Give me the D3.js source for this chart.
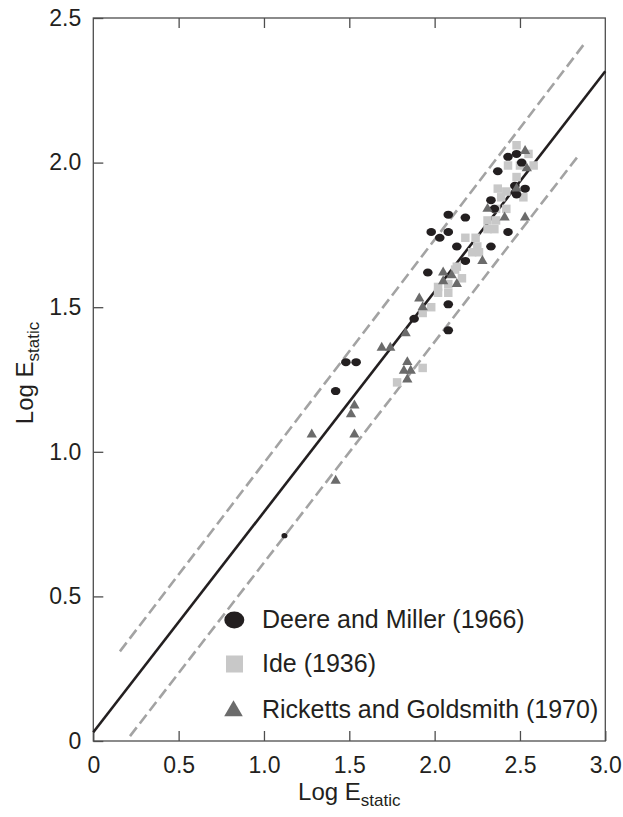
<!DOCTYPE html>
<html>
<head>
<meta charset="utf-8">
<script src="https://cdn.jsdelivr.net/npm/d3@7"></script>
<style>
  body { margin: 0; background: #fff; }
  text { font-family: "Liberation Sans", Arial, sans-serif; fill: #231f20; }
</style>
</head>
<body>
<div id="chart"></div>
<script>
// Deere and Miller (1966)
const deere = [
  [2.43, 2.02], [2.48, 2.03], [2.51, 2.00], [2.37, 1.97], [2.47, 1.92], [2.53, 1.91],
  [2.48, 1.89], [2.33, 1.87], [2.35, 1.84], [2.08, 1.82], [2.18, 1.81], [1.98, 1.76],
  [2.03, 1.74], [2.08, 1.76], [2.43, 1.76], [2.13, 1.71], [2.33, 1.71], [2.18, 1.66],
  [1.96, 1.62], [2.08, 1.51], [1.88, 1.46], [2.08, 1.42], [1.48, 1.31], [1.54, 1.31],
  [1.42, 1.21]
];
const deereSmall = [[1.12, 0.71]];
// Ide (1936)
const ide = [
  [2.48, 2.06], [2.55, 2.03], [2.43, 1.99], [2.50, 1.99], [2.58, 1.99], [2.48, 1.95],
  [2.37, 1.91], [2.42, 1.90], [2.52, 1.88], [2.39, 1.88], [2.42, 1.84], [2.36, 1.84],
  [2.31, 1.80], [2.36, 1.80], [2.31, 1.77], [2.35, 1.77], [2.18, 1.74], [2.24, 1.74],
  [2.25, 1.71], [2.22, 1.69], [2.26, 1.69], [2.13, 1.64], [2.12, 1.63], [2.16, 1.60],
  [2.02, 1.57], [2.08, 1.58], [2.02, 1.55], [2.08, 1.55], [1.98, 1.50], [1.93, 1.48],
  [1.93, 1.29], [1.78, 1.24]
];
// Ricketts and Goldsmith (1970)
const ricketts = [
  [2.53, 2.04], [2.54, 1.98], [2.48, 1.91], [2.31, 1.84], [2.41, 1.81], [2.53, 1.81],
  [2.28, 1.66], [2.05, 1.62], [2.10, 1.61], [2.13, 1.58], [2.05, 1.59], [1.91, 1.53],
  [1.93, 1.50], [1.83, 1.41], [1.69, 1.36], [1.74, 1.36], [1.84, 1.31], [1.82, 1.28],
  [1.86, 1.28], [1.84, 1.25], [1.53, 1.16], [1.51, 1.13], [1.28, 1.06], [1.53, 1.06],
  [1.42, 0.90]
];
const fitLine = [[0, 0.03], [3.0, 2.316]];
const upperBound = [[0.156, 0.31], [2.88, 2.413]];
const lowerBound = [[0.215, 0.017], [2.84, 2.022]];
const xTicks = [0, 0.5, 1.0, 1.5, 2.0, 2.5, 3.0];
const yTicks = [0, 0.5, 1.0, 1.5, 2.0, 2.5];
const legendItems = ["Deere and Miller (1966)", "Ide (1936)", "Ricketts and Goldsmith (1970)"];

const W = 623, H = 817;
const svg = d3.select('#chart').append('svg').attr('width', W).attr('height', H);
const x = d3.scaleLinear().domain([0, 3]).range([93.3, 605.3]);
const y = d3.scaleLinear().domain([0, 2.5]).range([741, 18]);
const fmt = d => d === 0 ? '0' : d.toFixed(1);

// frame
svg.append('rect').attr('x', x(0)).attr('y', y(2.5)).attr('width', x(3) - x(0)).attr('height', y(0) - y(2.5))
   .attr('fill', 'none').attr('stroke', '#4d4d4d').attr('stroke-width', 1.3);

const styleAxis = g => {
  g.select('.domain').remove();
  g.selectAll('line').attr('stroke', '#4d4d4d').attr('stroke-width', 1.3);
  g.selectAll('text').style('font-family', '"Liberation Sans", Arial, sans-serif').style('font-size', '23px').attr('fill', '#231f20');
};
svg.append('g').attr('transform', `translate(0,${y(0)})`)
   .call(d3.axisBottom(x).tickValues(xTicks).tickSizeInner(-10).tickSizeOuter(0).tickPadding(16).tickFormat(fmt))
   .call(styleAxis);
svg.append('g').attr('transform', `translate(0,${y(2.5)})`)
   .call(d3.axisTop(x).tickValues(xTicks.slice(1, -1)).tickSizeInner(-10).tickSizeOuter(0).tickFormat(''))
   .call(styleAxis);
svg.append('g').attr('transform', `translate(${x(0)},0)`)
   .call(d3.axisLeft(y).tickValues(yTicks).tickSizeInner(-10).tickSizeOuter(0).tickPadding(12).tickFormat(fmt))
   .call(styleAxis);

// lines
const line = d3.line().x(d => x(d[0])).y(d => y(d[1]));
[upperBound, lowerBound].forEach(b => {
  svg.append('path').attr('d', line(b)).attr('fill', 'none').attr('stroke', '#a3a3a3')
     .attr('stroke-width', 2.6).attr('stroke-dasharray', '11,5');
});
svg.append('path').attr('d', line(fitLine)).attr('fill', 'none').attr('stroke', '#231f20').attr('stroke-width', 2.6);

// points
const sq = d3.symbol().type(d3.symbolSquare).size(72);
const tri = d3.symbol().type(d3.symbolTriangle).size(46);
svg.append('g').selectAll('path').data(ide).join('path')
   .attr('d', sq).attr('transform', d => `translate(${x(d[0])},${y(d[1])})`).attr('fill', '#c8c8c8');
svg.append('g').selectAll('ellipse').data(deere).join('ellipse')
   .attr('cx', d => x(d[0])).attr('cy', d => y(d[1])).attr('rx', 4.8).attr('ry', 4)
   .attr('fill', '#231f20');
svg.append('g').selectAll('ellipse').data(deereSmall).join('ellipse')
   .attr('cx', d => x(d[0])).attr('cy', d => y(d[1])).attr('rx', 3).attr('ry', 2.6)
   .attr('fill', '#231f20');
svg.append('g').selectAll('path').data(ricketts).join('path')
   .attr('d', tri).attr('transform', d => `translate(${x(d[0])},${y(d[1])})`).attr('fill', '#6b6b6b');

// legend
const lg = svg.append('g');
lg.append('ellipse').attr('cx', 234.3).attr('cy', 620).attr('rx', 10).attr('ry', 8.5).attr('fill', '#231f20');
lg.append('rect').attr('x', 226).attr('y', 655.5).attr('width', 17).attr('height', 17).attr('fill', '#c8c8c8');
lg.append('path').attr('d', d3.symbol().type(d3.symbolTriangle).size(150)).attr('transform', 'translate(233.5,711)').attr('fill', '#6b6b6b');
legendItems.forEach((t, i) => {
  lg.append('text').attr('x', 262).attr('y', [628, 672, 718][i]).style('font-size', '25px').text(t);
});

// axis titles
const xt = svg.append('text').attr('x', (x(0) + x(3)) / 2).attr('y', 800).attr('text-anchor', 'middle').style('font-size', '24px');
xt.append('tspan').text('Log E');
xt.append('tspan').attr('dy', 6).style('font-size', '17px').text('static');
const yt = svg.append('text').attr('transform', 'translate(33,373) rotate(-90)').attr('text-anchor', 'middle').style('font-size', '24px');
yt.append('tspan').text('Log E');
yt.append('tspan').attr('dy', 6).style('font-size', '17px').text('static');
</script>
</body>
</html>
